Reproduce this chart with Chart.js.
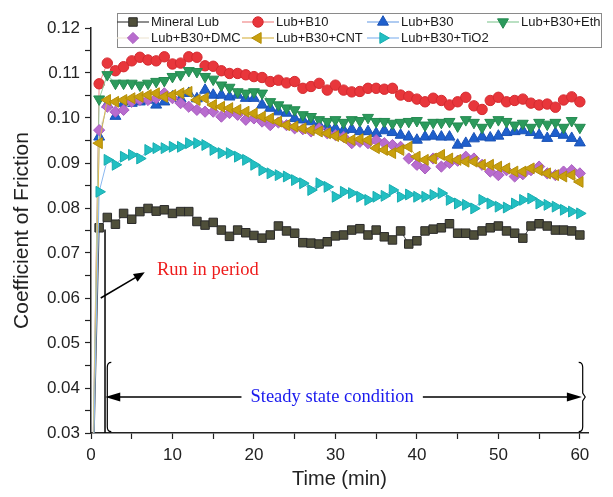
<!DOCTYPE html>
<html>
<head>
<meta charset="utf-8">
<script src="https://cdn.jsdelivr.net/npm/chart.js"></script>
<style>
  html, body { margin: 0; padding: 0; background: #fff; }
  #wrap { width: 613px; height: 497px; }
</style>
</head>
<body>
<div id="wrap"><canvas id="myChart" width="613" height="497"></canvas></div>
<script>
// time axis (min)
var times = [0, 1, 2, 3, 4, 5, 6, 7, 8, 9, 10, 11, 12, 13, 14, 15, 16, 17, 18, 19, 20,
    21, 22, 23, 24, 25, 26, 27, 28, 29, 30, 31, 32, 33, 34, 35, 36, 37, 38, 39, 40,
    41, 42, 43, 44, 45, 46, 47, 48, 49, 50, 51, 52, 53, 54, 55, 56, 57, 58, 59, 60];

var seriesNames = ['Mineral Lub', 'Lub+B10', 'Lub+B30', 'Lub+B30+Eth',
    'Lub+B30+DMC', 'Lub+B30+CNT', 'Lub+B30+TiO2'];

var mineralLub = [0, .0756, .0779, .0764, .0788, .0775, .0792, .0799, .0793, .0796, .0788,
    .0792, .0792, .0770, .0762, .0768, .0751, .0737, .0751, .0745, .0739,
    .0733, .0740, .0760, .0749, .0744, .0723, .0722, .0720, .0725, .0738,
    .0740, .0751, .0754, .0740, .0751, .0736, .0729, .0749, .0720, .0727,
    .0749, .0753, .0756, .0765, .0744, .0744, .0740, .0749, .0756, .0760,
    .0749, .0744, .0733, .0760, .0765, .0760, .0751, .0751, .0749, .0740];

var lubB10 = [0, .1076, .1122, .1105, .1114, .1127, .1135, .1129, .1127, .1136, .1120,
    .1122, .1136, .1135, .1116, .1115, .1105, .1099, .1099, .1096, .1092,
    .1090, .1081, .1084, .1078, .1081, .1066, .1070, .1077, .1062, .1073,
    .1062, .1058, .1059, .1066, .1066, .1064, .1066, .1051, .1048, .1042,
    .1036, .1044, .1039, .1029, .1036, .1046, .1027, .1019, .1039, .1046,
    .1036, .1039, .1042, .1033, .1029, .1031, .1024, .1040, .1047, .1036];

var lubB30 = [0, .0958, .1030, .1004, .1033, .1033, .1036, .1040, .1029, .1036, .1047,
    .1043, .1055, .1043, .1062, .1051, .1051, .1047, .1051, .1044, .1044,
    .1029, .1022, .1014, .1011, .0999, .0996, .0992, .0984, .0981, .0977,
    .0973, .0975, .0970, .0970, .0966, .0972, .0968, .0962, .0958, .0951,
    .0958, .0960, .0958, .0958, .0940, .0944, .0954, .0958, .0956, .0960,
    .0968, .0970, .0972, .0968, .0962, .0955, .0966, .0962, .0955, .0945];

var lubB30Eth = [0, .1042, .1096, .1077, .1077, .1077, .1073, .1077, .1081, .1083, .1092,
    .1096, .1105, .1103, .1092, .1086, .1073, .1068, .1058, .1055, .1058,
    .1055, .1036, .1029, .1022, .1018, .1007, .1003, .0996, .0992, .0996,
    .0990, .0996, .0994, .1001, .0992, .0992, .0988, .0990, .0992, .0994,
    .0984, .0990, .0990, .0992, .0982, .0996, .0990, .0979, .0990, .0996,
    .0992, .0984, .0988, .0979, .0990, .0986, .0990, .0979, .0994, .0979];

var lubB30DMC = [0, .0973, .1025, .1014, .1018, .1036, .1040, .1040, .1044, .1055, .1044,
    .1033, .1025, .1018, .1014, .1014, .1003, .1011, .1007, .0996, .0999,
    .0992, .0984, .0990, .0984, .0977, .0975, .0970, .0977, .0966, .0962,
    .0958, .0944, .0947, .0944, .0951, .0944, .0940, .0936, .0910, .0896,
    .0888, .0910, .0892, .0900, .0905, .0914, .0910, .0896, .0881, .0873,
    .0884, .0870, .0875, .0884, .0892, .0877, .0873, .0881, .0884, .0877];

var lubB30CNT = [0, .0944, .1040, .1036, .1040, .1044, .1047, .1051, .1055, .1047, .1051,
    .1055, .1058, .1040, .1044, .1029, .1025, .1022, .1018, .1014, .1010,
    .1003, .0999, .0992, .0984, .0981, .0977, .0973, .0970, .0966, .0960,
    .0955, .0951, .0953, .0951, .0933, .0929, .0922, .0929, .0936, .0914,
    .0907, .0910, .0918, .0910, .0907, .0903, .0903, .0896, .0896, .0892,
    .0888, .0881, .0881, .0888, .0884, .0877, .0873, .0870, .0873, .0858];

var lubB30TiO2 = [0, .0836, .0907, .0896, .0914, .0918, .0910, .0929, .0933, .0933, .0936,
    .0936, .0944, .0944, .0940, .0929, .0922, .0922, .0914, .0907, .0896,
    .0884, .0877, .0873, .0870, .0862, .0855, .0840, .0855, .0847, .0825,
    .0836, .0833, .0825, .0818, .0825, .0827, .0840, .0825, .0830, .0825,
    .0825, .0829, .0833, .0818, .0810, .0807, .0799, .0818, .0810, .0803,
    .0801, .0810, .0818, .0821, .0810, .0807, .0803, .0796, .0792, .0788];

var yTicks = [0.03, 0.04, 0.05, 0.06, 0.07, 0.08, 0.09, 0.10, 0.11, 0.12];
var xTicks = [0, 10, 20, 30, 40, 50, 60];

var allValues = [mineralLub, lubB10, lubB30, lubB30Eth, lubB30DMC, lubB30CNT, lubB30TiO2];

// marker look per series
var looks = [
    { style: 'rect', rot: 0, r: 6, fill: '#4f4f3a', stroke: '#2a2a2a', line: '#444444' },
    { style: 'circle', rot: 0, r: 5.2, fill: '#e8363b', stroke: '#d42a30', line: '#f08a8a' },
    { style: 'triangle', rot: 0, r: 6.3, fill: '#1f5fcc', stroke: '#1a52b5', line: '#7aa8e8' },
    { style: 'triangle', rot: 180, r: 6.3, fill: '#2c9a5c', stroke: '#238a50', line: '#8ccc9c' },
    { style: 'rectRot', rot: 0, r: 5.6, fill: '#b86cce', stroke: '#a85cbf', line: '#efe6d6' },
    { style: 'triangle', rot: -90, r: 6.3, fill: '#c9a00e', stroke: '#b48e08', line: '#d8b850' },
    { style: 'triangle', rot: 90, r: 6.3, fill: '#22bfc2', stroke: '#18adb0', line: '#8ab8f0' }
];

var FONT = '"Liberation Sans", Arial, sans-serif';
var SERIF = '"Liberation Serif", "Times New Roman", serif';

function drawMarker(ctx, lk, x, y) {
    var r = lk.r;
    ctx.save();
    ctx.translate(x, y);
    ctx.rotate(lk.rot * Math.PI / 180);
    ctx.beginPath();
    if (lk.style === 'circle') {
        ctx.arc(0, 0, r, 0, Math.PI * 2);
    } else if (lk.style === 'rect') {
        var s = r * Math.SQRT1_2;
        ctx.rect(-s, -s, 2 * s, 2 * s);
    } else if (lk.style === 'rectRot') {
        ctx.moveTo(0, -r); ctx.lineTo(r, 0); ctx.lineTo(0, r); ctx.lineTo(-r, 0);
        ctx.closePath();
    } else {
        for (var k = 0; k < 3; k++) {
            var a = k * 2 * Math.PI / 3;
            if (k === 0) ctx.moveTo(r * Math.sin(a), -r * Math.cos(a));
            else ctx.lineTo(r * Math.sin(a), -r * Math.cos(a));
        }
        ctx.closePath();
    }
    ctx.fillStyle = lk.fill;
    ctx.fill();
    ctx.lineWidth = 1;
    ctx.strokeStyle = lk.stroke;
    ctx.stroke();
    ctx.restore();
}

function arrowHead(ctx, x1, y1, x2, y2, len, half) {
    var a = Math.atan2(y2 - y1, x2 - x1);
    ctx.beginPath();
    ctx.moveTo(x2, y2);
    ctx.lineTo(x2 - len * Math.cos(a) + half * Math.sin(a), y2 - len * Math.sin(a) - half * Math.cos(a));
    ctx.lineTo(x2 - len * Math.cos(a) - half * Math.sin(a), y2 - len * Math.sin(a) + half * Math.cos(a));
    ctx.closePath();
    ctx.fill();
}

// legend box, drawn inside the plot like the original
var legendBox = {
    id: 'legendBox',
    afterDraw: function (chart) {
        var ctx = chart.ctx;
        var cols = [133, 258, 383, 503];
        var rows = [22, 38];
        ctx.save();
        ctx.fillStyle = '#ffffff';
        ctx.fillRect(117, 13, 484, 34);
        ctx.strokeStyle = '#8a8a8a';
        ctx.lineWidth = 1;
        ctx.strokeRect(117.5, 13.5, 484, 34);
        ctx.font = '13px ' + FONT;
        ctx.textBaseline = 'middle';
        for (var i = 0; i < seriesNames.length; i++) {
            var cx = cols[i % 4], cy = rows[Math.floor(i / 4)];
            var lk = looks[i];
            ctx.strokeStyle = lk.line;
            ctx.lineWidth = 1.2;
            ctx.beginPath();
            ctx.moveTo(cx - 16, cy);
            ctx.lineTo(cx + 16, cy);
            ctx.stroke();
            drawMarker(ctx, lk, cx, cy);
            ctx.fillStyle = '#1a1a1a';
            ctx.fillText(seriesNames[i], cx + 18, cy + 0.5);
        }
        ctx.restore();
    }
};

// run-in / steady state annotations
var notes = {
    id: 'notes',
    afterDraw: function (chart) {
        var ctx = chart.ctx;
        var xs = chart.scales.x, ys = chart.scales.y;
        var X = function (v) { return xs.getPixelForValue(v); };
        var Y = function (v) { return ys.getPixelForValue(v); };
        ctx.save();
        ctx.strokeStyle = '#000';
        ctx.fillStyle = '#000';

        // vertical marker line
        ctx.lineWidth = 1.5;
        ctx.beginPath();
        ctx.moveTo(X(1.72), Y(0.0752));
        ctx.lineTo(X(1.72), Y(0.03));
        ctx.stroke();

        // run in arrow + label
        var ax1 = X(1.2), ay1 = Y(0.0600), ax2 = X(6.6), ay2 = Y(0.0657);
        ctx.lineWidth = 1.5;
        ctx.beginPath();
        ctx.moveTo(ax1, ay1);
        ctx.lineTo(ax2 - 6, ay2 + 3.2);
        ctx.stroke();
        arrowHead(ctx, ax1, ay1, ax2, ay2, 11, 4.5);
        ctx.font = '18.5px ' + SERIF;
        ctx.fillStyle = '#ee1c1c';
        ctx.textBaseline = 'middle';
        ctx.textAlign = 'left';
        ctx.fillText('Run in period', X(8.1), Y(0.0662));

        // steady state double arrow
        var hy = Y(0.0380);
        var lx = X(1.75), rx = X(60.25);
        var label = 'Steady state condition';
        ctx.font = '18.5px ' + SERIF;
        var tw = ctx.measureText(label).width;
        var cx = X(29.6);
        ctx.fillStyle = '#1a1aee';
        ctx.textAlign = 'center';
        ctx.fillText(label, cx, hy);
        ctx.fillStyle = '#000';
        ctx.lineWidth = 1.5;
        ctx.beginPath();
        ctx.moveTo(lx + 10, hy);
        ctx.lineTo(cx - tw / 2 - 9, hy);
        ctx.moveTo(cx + tw / 2 + 9, hy);
        ctx.lineTo(rx - 10, hy);
        ctx.stroke();
        arrowHead(ctx, rx, hy, lx, hy, 15, 4.5);
        arrowHead(ctx, lx, hy, rx, hy, 15, 4.5);

        // braces
        var top = Y(0.0457), bot = Y(0.0303), mid = hy;
        var bl = X(2.0);
        ctx.lineWidth = 1.2;
        ctx.beginPath();
        ctx.moveTo(bl + 4, top);
        ctx.quadraticCurveTo(bl, top, bl, top + 5);
        ctx.lineTo(bl, bot - 5);
        ctx.quadraticCurveTo(bl, bot, bl + 4, bot);
        ctx.stroke();
        var br = X(60.35);
        ctx.beginPath();
        ctx.moveTo(br - 4, top);
        ctx.quadraticCurveTo(br, top, br, top + 5);
        ctx.lineTo(br, mid - 4);
        ctx.lineTo(br + 2.5, mid);
        ctx.lineTo(br, mid + 4);
        ctx.lineTo(br, bot - 5);
        ctx.quadraticCurveTo(br, bot, br - 4, bot);
        ctx.stroke();
        ctx.restore();
    }
};

var datasets = seriesNames.map(function (name, i) {
    var lk = looks[i];
    return {
        label: name,
        data: times.map(function (t, k) { return { x: t, y: allValues[i][k] }; }),
        borderColor: lk.line,
        borderWidth: 1,
        pointStyle: lk.style,
        pointRotation: lk.rot,
        pointRadius: lk.r,
        pointBackgroundColor: lk.fill,
        pointBorderColor: lk.stroke,
        pointBorderWidth: 1,
        tension: 0,
        fill: false,
        order: seriesNames.length - i
    };
});

function chartFriction() {
    new Chart(document.getElementById('myChart'), {
        type: 'line',
        data: { datasets: datasets },
        options: {
            responsive: false,
            animation: false,
            layout: { padding: { top: 28, right: 25, bottom: 0, left: 0 } },
            plugins: {
                legend: { display: false },
                tooltip: { enabled: false }
            },
            scales: {
                x: {
                    type: 'linear',
                    min: 0,
                    max: 61,
                    afterFit: function (s) { s.height = 64; },
                    border: { display: true, color: '#222', width: 1.5 },
                    grid: { display: true, drawOnChartArea: false, drawTicks: true, tickLength: 6, color: '#222', tickWidth: 1.2 },
                    ticks: {
                        stepSize: 5,
                        includeBounds: false,
                        autoSkip: false,
                        maxRotation: 0,
                        padding: 6,
                        color: '#222',
                        font: { family: FONT, size: 17 },
                        callback: function (v) { return xTicks.indexOf(v) >= 0 ? String(v) : ''; }
                    },
                    title: {
                        display: true,
                        text: 'Time (min)',
                        color: '#222',
                        font: { family: FONT, size: 20 },
                        padding: { top: 0, bottom: 6 }
                    }
                },
                y: {
                    type: 'linear',
                    min: 0.03,
                    max: 0.12,
                    afterFit: function (s) { s.width = 91; },
                    border: { display: true, color: '#222', width: 1.5 },
                    grid: { display: true, drawOnChartArea: false, drawTicks: true, tickLength: 6, color: '#222', tickWidth: 1.2 },
                    ticks: {
                        stepSize: 0.005,
                        autoSkip: false,
                        padding: 5,
                        color: '#222',
                        font: { family: FONT, size: 17 },
                        callback: function (v) {
                            for (var i = 0; i < yTicks.length; i++) {
                                if (Math.abs(yTicks[i] - v) < 1e-6) return yTicks[i].toFixed(2);
                            }
                            return '';
                        }
                    },
                    title: {
                        display: true,
                        text: 'Coefficient of Friction',
                        color: '#222',
                        font: { family: FONT, size: 21 },
                        padding: { top: 10, bottom: 0 }
                    }
                }
            }
        },
        plugins: [notes, legendBox]
    });
}

chartFriction();
</script>
</body>
</html>
